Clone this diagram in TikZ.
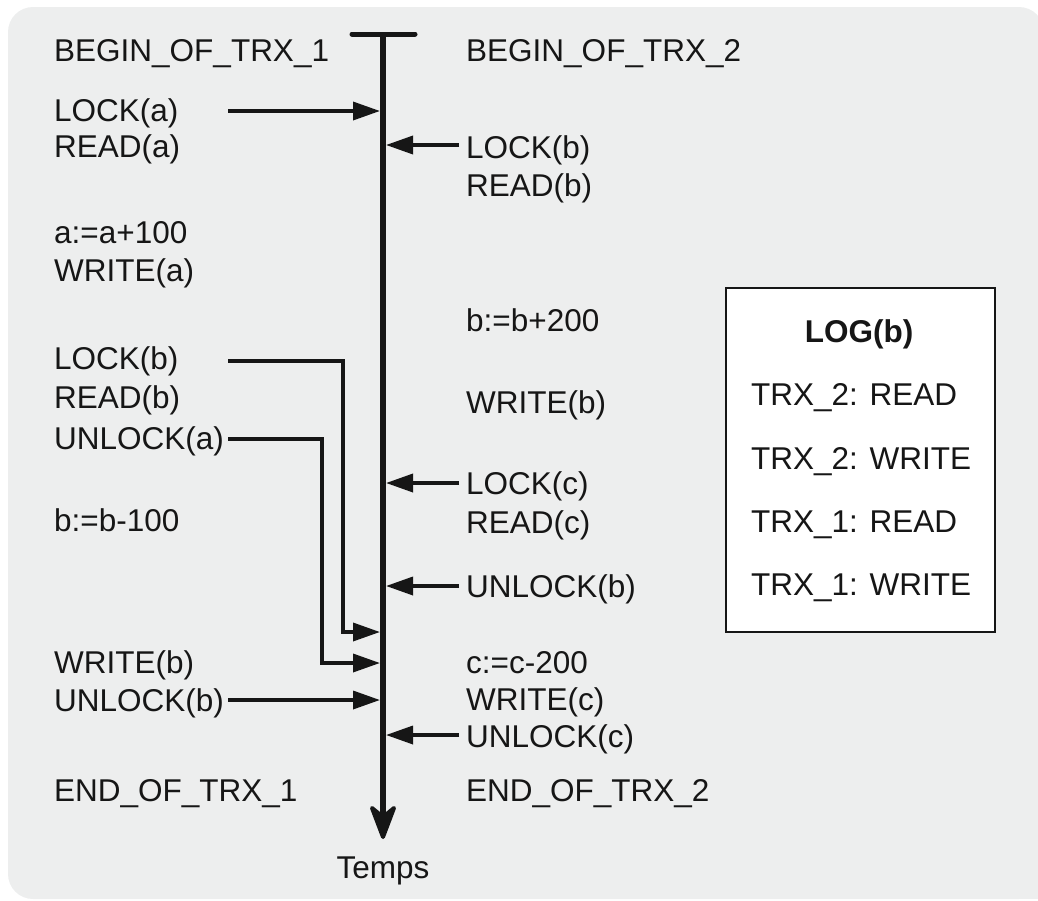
\documentclass[tikz,border=0pt]{standalone}
\usepackage{fontspec}
\setmainfont{Liberation Sans}
\usetikzlibrary{arrows.meta}
\definecolor{bggray}{RGB}{237,238,238}
\definecolor{ink}{RGB}{22,22,22}
\newcommand{\tfont}{\fontsize{31.5}{37}\selectfont}
\begin{document}
\begin{tikzpicture}[x=1pt,y=-1pt,
  txt/.style={anchor=base west, inner sep=0pt, font=\tfont, text=ink},
  ctxt/.style={anchor=base, inner sep=0pt, font=\tfont, text=ink},
  conn/.style={draw=ink, line width=3.5pt, -{Triangle[length=27pt,width=18pt]}},
  timeline/.style={draw=ink, line width=6pt},
  logbox/.style={draw=ink, fill=white, line width=2pt, inner sep=0pt}
]
\useasboundingbox (0,0) rectangle (1038,900);
\fill[bggray, rounded corners=25pt] (8,7) rectangle (1044,899);
\fill[bggray] (900,700) rectangle (1044,899);

% timeline
\coordinate (ttop) at (383,34);
\coordinate (tbot) at (383,818);
\coordinate (tbarl) at (352,34);
\coordinate (tbarr) at (415,34);
\draw[ink, line width=5pt, line cap=round] (tbarl) -- (tbarr);
\draw[timeline] (ttop) -- (tbot);
\filldraw[ink, line width=4pt, line join=round] (383,837) -- (372,808) -- (383,817) -- (394,808) -- cycle;
\node[ctxt] (temps) at (383,878) {Temps};

% left column (TRX_1)
\node[txt] (b1) at (54,61) {BEGIN\_OF\_TRX\_1};
\node[txt] (l1) at (54,121) {LOCK(a)};
\node[txt] (l2) at (54,157) {READ(a)};
\node[txt] (l3) at (54,243) {a:=a+100};
\node[txt] (l4) at (54,281) {WRITE(a)};
\node[txt] (l5) at (54,369) {LOCK(b)};
\node[txt] (l6) at (54,408) {READ(b)};
\node[txt] (l7) at (54,449) {UNLOCK(a)};
\node[txt] (l8) at (54,531) {b:=b-100};
\node[txt] (l9) at (54,673) {WRITE(b)};
\node[txt] (l10) at (54,711) {UNLOCK(b)};
\node[txt] (e1) at (54,801) {END\_OF\_TRX\_1};

% right column (TRX_2)
\node[txt] (b2) at (466,61) {BEGIN\_OF\_TRX\_2};
\node[txt] (r1) at (466,158) {LOCK(b)};
\node[txt] (r2) at (466,196) {READ(b)};
\node[txt] (r3) at (466,331) {b:=b+200};
\node[txt] (r4) at (466,413) {WRITE(b)};
\node[txt] (r5) at (466,494) {LOCK(c)};
\node[txt] (r6) at (466,533) {READ(c)};
\node[txt] (r7) at (466,597) {UNLOCK(b)};
\node[txt] (r8) at (466,673) {c:=c-200};
\node[txt] (r9) at (466,710) {WRITE(c)};
\node[txt] (r10) at (466,747) {UNLOCK(c)};
\node[txt] (e2) at (466,801) {END\_OF\_TRX\_2};

% connector end points
\coordinate (sla) at (228,111);  \coordinate (tla) at (380,111);
\coordinate (slb) at (228,361);  \coordinate (klb) at (343,361); \coordinate (tlb) at (380,632);
\coordinate (sua) at (228,439);  \coordinate (kua) at (322,439); \coordinate (tua) at (380,663);
\coordinate (sub) at (228,700);  \coordinate (tub) at (380,700);
\coordinate (srb) at (459,145);  \coordinate (trb) at (386,145);
\coordinate (src) at (459,483);  \coordinate (trc) at (386,483);
\coordinate (srub) at (459,586); \coordinate (trub) at (386,586);
\coordinate (sruc) at (459,735); \coordinate (truc) at (386,735);

\draw[conn] (sla) -- (tla);
\draw[conn] (slb) -- (klb) |- (tlb);
\draw[conn] (sua) -- (kua) |- (tua);
\draw[conn] (sub) -- (tub);
\draw[conn] (srb) -- (trb);
\draw[conn] (src) -- (trc);
\draw[conn] (srub) -- (trub);
\draw[conn] (sruc) -- (truc);

% log box
\node[logbox, minimum width=269pt, minimum height=344pt, anchor=north west] (log) at (725,287) {};
\node[ctxt, font=\tfont\bfseries] (logt) at (859,342) {LOG(b)};
\node[txt] (g1) at (751,405) {TRX\_2: READ};
\node[txt] (g2) at (751,469) {TRX\_2: WRITE};
\node[txt] (g3) at (751,532) {TRX\_1: READ};
\node[txt] (g4) at (751,595) {TRX\_1: WRITE};
\end{tikzpicture}
\end{document}
